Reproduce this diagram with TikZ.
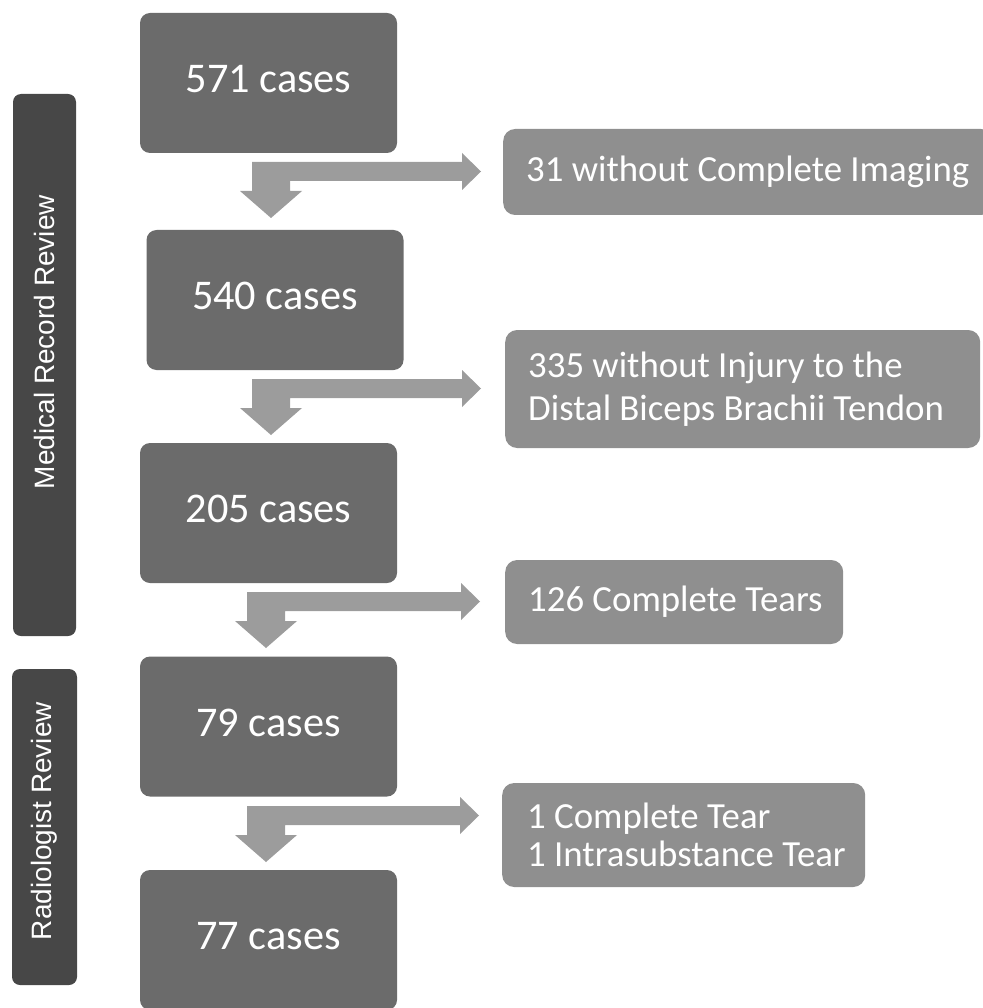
\documentclass[tikz,border=0pt]{standalone}
\usepackage{fontspec}
\setmainfont{Carlito}
\newfontfamily\barfont{Liberation Sans}
\usetikzlibrary{positioning}

\definecolor{casegray}{HTML}{6B6B6B}
\definecolor{outgray}{HTML}{8F8F8F}
\definecolor{arrowgray}{HTML}{9C9C9C}
\definecolor{bargray}{HTML}{474747}

\tikzset{
  casebox/.style={fill=casegray, rounded corners=10pt, minimum width=257pt,
    minimum height=140pt, text depth=8pt, text=white, font=\fontsize{42.3}{48}\selectfont},
  outbox/.style={fill=outgray, rounded corners=12pt, anchor=west},
  outtext/.style={anchor=west, xshift=23pt, align=left, text=white,
    inner sep=0pt, font=\fontsize{36.8}{43}\selectfont},
  sidebar/.style={fill=bargray, rounded corners=8pt, rotate=90},
  barlabel/.style={text=white, rotate=90, font=\barfont\fontsize{28}{32}\selectfont},
  flowarrow/.style={fill=arrowgray}
}

% elbow arrow: stem top-left corner, length of the side bar
\newcommand{\elbow}[2]{%
  \fill[flowarrow] (#1) -- ++(#2,0) -- ++(0,-9) -- ++(19,18.5) -- ++(-19,18.5)
    -- ++(0,-9) -- ++({38-#2},0) -- ++(0,10) -- ++(12,0) -- ++(-31,27)
    -- ++(-31,-27) -- ++(12,0) -- cycle;}

\begin{document}
\begin{tikzpicture}[x=1pt,y=-1pt]
\useasboundingbox (0,0) rectangle (982,1008);

% side bars
\node[sidebar, minimum width=542pt, minimum height=63pt] (medbar) at (44.5,365) {};
\node[barlabel] (medlabel) at (44.5,342) {Medical Record Review};
\node[sidebar, minimum width=316pt, minimum height=65pt] (radbar) at (44.5,827) {};
\node[barlabel] (radlabel) at (44.5,821) {Radiologist Review};

% case counts
\node[casebox] (n571) at (268.5,83) {571 cases};
\node[casebox] (n540) at (275,300) {540 cases};
\node[casebox] (n205) at (268.5,513) {205 cases};
\node[casebox] (n79) at (268.5,726.5) {79 cases};
\node[casebox] (n77) at (268.5,940) {77 cases};

% excluded
\node[outbox, minimum width=490pt, minimum height=86pt,
  label={[outtext]west:31 without Complete Imaging}] (x31) at (503,172) {};
\node[outbox, minimum width=475pt, minimum height=118pt,
  label={[outtext]west:{335 without Injury to the\\Distal Biceps Brachii Tendon}}] (x335) at (505,389) {};
\node[outbox, minimum width=338pt, minimum height=84pt,
  label={[outtext]west:126 Complete Tears}] (x126) at (505,602) {};
\node[outbox, minimum width=363pt, minimum height=104pt,
  label={[outtext, font=\fontsize{36.8}{38}\selectfont, xshift=2pt]west:{1 Complete Tear\\1 Intrasubstance Tear}}] (xtear) at (502,835) {};

% arrows
\coordinate (a1) at (252,162);
\coordinate (a2) at (252,379);
\coordinate (a3) at (247,592);
\coordinate (a4) at (247,806);
\elbow{a1}{210}
\elbow{a2}{210}
\elbow{a3}{214}
\elbow{a4}{213}
\end{tikzpicture}
\end{document}
